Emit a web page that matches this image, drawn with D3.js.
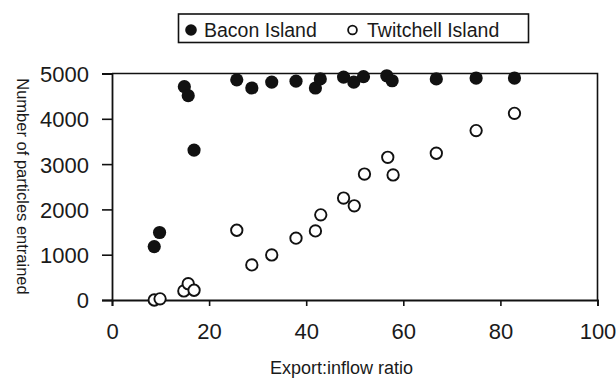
<!DOCTYPE html>
<html>
<head>
<meta charset="utf-8">
<script src="https://cdn.jsdelivr.net/npm/d3@7"></script>
<style>
  body { margin: 0; background: #fff; }
  svg text { font-family: "Liberation Sans", Arial, sans-serif; fill: #1a1a1a; }
</style>
</head>
<body>
<div id="chart"></div>
<script>
// values
var baconX = [8.7, 9.8, 14.9, 15.7, 16.9, 25.7, 28.8, 32.9, 37.9, 41.9, 42.9, 47.7, 49.8, 51.8, 56.6, 57.7, 66.8, 75.0, 82.9];
var baconY = [1180, 1490, 4710, 4510, 3310, 4860, 4680, 4810, 4830, 4680, 4880, 4920, 4810, 4930, 4950, 4840, 4880, 4900, 4900];
var twitchellX = [8.7, 9.9, 14.8, 15.7, 16.9, 25.7, 28.8, 32.9, 37.9, 41.9, 43.0, 47.7, 49.9, 52.0, 56.8, 57.9, 66.8, 75.0, 82.9];
var twitchellY = [0, 25, 200, 360, 215, 1540, 775, 995, 1365, 1525, 1880, 2250, 2080, 2780, 3150, 2760, 3240, 3740, 4120];
var xTicks = [0, 20, 40, 60, 80, 100];
var yTicks = [0, 1000, 2000, 3000, 4000, 5000];
var seriesNames = ['Bacon Island', 'Twitchell Island'];

var width = 616, height = 378;
var plotLeft = 112, plotRight = 597.5, plotTop = 73.5, plotBottom = 300;

var svg = d3.select('#chart').append('svg')
	.attr('width', width)
	.attr('height', height);

var x = d3.scaleLinear().domain([0, 100]).range([plotLeft, plotRight]);
var y = d3.scaleLinear().domain([0, 5000]).range([plotBottom, plotTop]);

// frame (top + right lines)
svg.append('path')
	.attr('d', 'M' + plotLeft + ',' + plotTop + 'H' + plotRight + 'V' + plotBottom)
	.attr('fill', 'none')
	.attr('stroke', '#111')
	.attr('stroke-width', 1.6);

var xAxis = svg.append('g')
	.attr('transform', 'translate(0,' + plotBottom + ')')
	.call(d3.axisBottom(x).tickValues(xTicks).tickSizeOuter(0).tickSize(6).tickPadding(17));
var yAxis = svg.append('g')
	.attr('transform', 'translate(' + plotLeft + ',0)')
	.call(d3.axisLeft(y).tickValues(yTicks).tickSizeOuter(0).tickSize(10).tickPadding(13).tickFormat(d3.format('d')));

[xAxis, yAxis].forEach(function(a) {
	a.select('.domain').attr('stroke', '#111').attr('stroke-width', 1.8);
	a.selectAll('.tick line').attr('stroke', '#111').attr('stroke-width', 1.6);
	a.selectAll('.tick text')
		.style('font-family', '"Liberation Sans", Arial, sans-serif')
		.style('font-size', '22px')
		.attr('fill', '#1a1a1a');
});
yAxis.selectAll('.tick text').attr('dy', '0.36em');

var r = 6.6;
var twitchell = twitchellX.map(function(d, i) { return [d, twitchellY[i]]; });
var bacon = baconX.map(function(d, i) { return [d, baconY[i]]; });

svg.append('g').selectAll('circle')
	.data(bacon)
	.enter().append('circle')
	.attr('cx', function(d) { return x(d[0]); })
	.attr('cy', function(d) { return y(d[1]); })
	.attr('r', r)
	.attr('fill', '#111');

svg.append('g').selectAll('circle')
	.data(twitchell)
	.enter().append('circle')
	.attr('cx', function(d) { return x(d[0]); })
	.attr('cy', function(d) { return y(d[1]); })
	.attr('r', r - 0.9)
	.attr('fill', '#fff')
	.attr('stroke', '#111')
	.attr('stroke-width', 1.9);

// axis titles
svg.append('text')
	.attr('x', 341.5)
	.attr('y', 373.5)
	.attr('text-anchor', 'middle')
	.style('font-size', '18px')
	.text('Export:inflow ratio');

svg.append('text')
	.attr('transform', 'translate(17,186.5) rotate(90)')
	.attr('text-anchor', 'middle')
	.style('font-size', '16.5px')
	.text('Number of particles entrained');

// legend
var lg = svg.append('g');
lg.append('rect')
	.attr('x', 178.5).attr('y', 14)
	.attr('width', 350).attr('height', 28.5)
	.attr('fill', '#fff')
	.attr('stroke', '#111')
	.attr('stroke-width', 1.6);
lg.append('circle').attr('cx', 191).attr('cy', 30).attr('r', 5.8).attr('fill', '#111');
lg.append('text').attr('x', 204).attr('y', 36.8).style('font-size', '19.5px').text(seriesNames[0]);
lg.append('circle').attr('cx', 352.5).attr('cy', 30).attr('r', 4.4)
	.attr('fill', '#fff').attr('stroke', '#111').attr('stroke-width', 1.8);
lg.append('text').attr('x', 367).attr('y', 36.8).style('font-size', '19.5px').text(seriesNames[1]);
</script>
</body>
</html>
